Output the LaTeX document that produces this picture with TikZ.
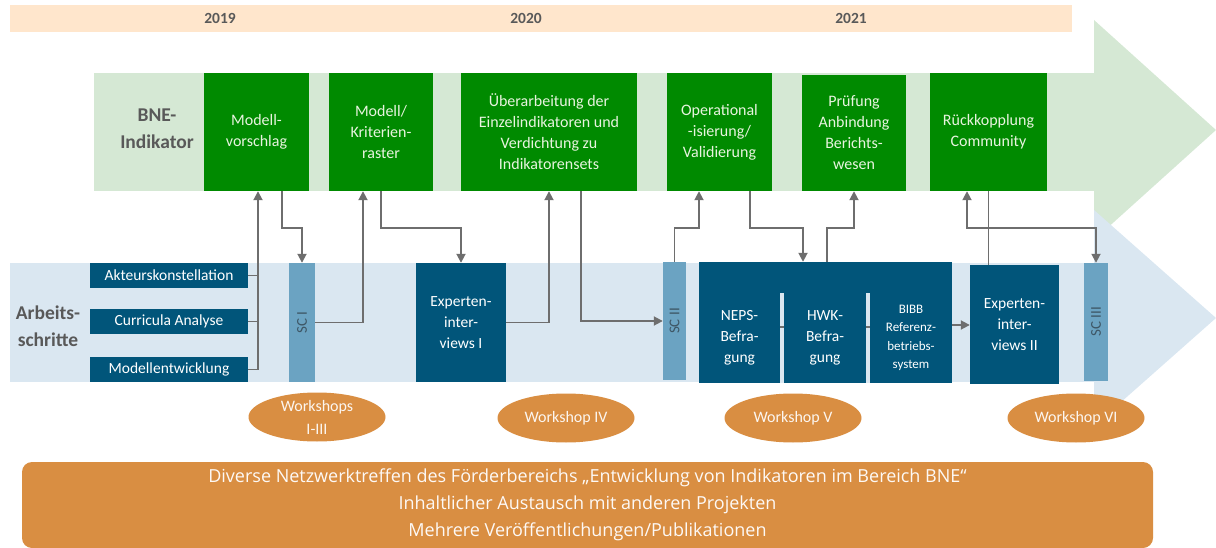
\documentclass[tikz,border=0pt]{standalone}
\usepackage{fontspec}
\setmainfont{Carlito}
\newfontfamily\netzfont{Open Sans}
\usetikzlibrary{arrows.meta, shapes.geometric, positioning}

\definecolor{yearbg}{HTML}{FFE6CC}
\definecolor{indlight}{HTML}{D5E8D4}
\definecolor{arblight}{HTML}{DAE7F1}
\definecolor{indgreen}{HTML}{008A00}
\definecolor{indtext}{HTML}{E8F4DF}
\definecolor{arbblue}{HTML}{01557A}
\definecolor{scblue}{HTML}{6BA3C2}
\definecolor{sctext}{HTML}{3E5766}
\definecolor{wsorange}{HTML}{D98E42}
\definecolor{labgray}{HTML}{595959}
\definecolor{linegray}{HTML}{6E6E6E}

\begin{document}
\begin{tikzpicture}[x=1pt, y=-1pt,
    gbox/.style={fill=indgreen, text=indtext, align=center, inner sep=0pt, minimum height=118pt, font=\fontsize{16}{21}\selectfont},
    bbox/.style={fill=arbblue, text=white, align=center, inner sep=0pt, font=\fontsize{15.5}{21}\selectfont},
    scbox/.style={fill=scblue, text=sctext, inner sep=0pt, font=\fontsize{15}{15}\selectfont},
    wsnode/.style={ellipse, fill=wsorange, text=white!92!wsorange, align=center, inner sep=0pt, minimum width=137pt, minimum height=49pt, font=\fontsize{16}{23}\selectfont},
    bandlabel/.style={text=labgray, align=center, font=\fontsize{19.5}{27}\selectfont\bfseries},
    yearlabel/.style={text=labgray, font=\fontsize{15.5}{15.5}\selectfont\bfseries},
    link/.style={draw=linegray, line width=1.8pt},
    arr/.style={link, -{Triangle[length=9pt, width=9pt]}},
    arrs/.style={link, {Triangle[length=9pt, width=9pt]}-{Triangle[length=9pt, width=9pt]}}
]
\useasboundingbox (0,0) rectangle (1216,548);

% years
\fill[yearbg] (10,5) rectangle (1072,32);
\node[yearlabel] (y19) at (220,18.5) {2019};
\node[yearlabel] (y20) at (526,18.5) {2020};
\node[yearlabel] (y21) at (851,18.5) {2021};

% two big arrows
\fill[indlight] (94,73) rectangle (1094,191);
\fill[indlight] (1094,20) -- (1216,130) -- (1094,240) -- cycle;
\fill[arblight] (10,263) rectangle (1094,382);
\fill[arblight] (1094,210) -- (1216,318) -- (1094,426) -- cycle;

\node[bandlabel] (bne) at (157,129) {BNE-\\Indikator};
\node[bandlabel] (arb) at (48,326) {Arbeits-\\schritte};

% BNE-Indikator
\node[gbox, minimum width=105pt] (mv) at (256.5,132) {Modell-\\vorschlag};
\node[gbox, minimum width=104pt] (kr) at (381,132) {Modell/\\Kriterien-\\raster};
\node[gbox, minimum width=176pt] (ueb) at (549,132) {Überarbeitung der\\Einzelindikatoren und\\Verdichtung zu\\Indikatorensets};
\node[gbox, minimum width=105pt] (op) at (719.5,132) {Operational\\-isierung/\\Validierung};
\node[gbox, minimum width=104pt, minimum height=116pt] (pr) at (854,133) {Prüfung\\Anbindung\\Berichts-\\wesen};
\node[gbox, minimum width=117pt] (rk) at (988.5,132) {Rückkopplung\\Community};

% Arbeitsschritte
\node[bbox, minimum width=158pt, minimum height=25pt] (ak) at (169,275.5) {Akteurskonstellation};
\node[bbox, minimum width=158pt, minimum height=25pt] (ca) at (169,321.5) {Curricula Analyse};
\node[bbox, minimum width=158pt, minimum height=25pt] (me) at (169,369.5) {Modellentwicklung};
\node[scbox, minimum width=26pt, minimum height=119pt] (sc1) at (302,322.5) {\rotatebox{90}{SC I}};
\node[bbox, minimum width=90pt, minimum height=119pt] (ex1) at (461,322.5) {Experten-\\inter-\\views I};
\node[scbox, minimum width=23pt, minimum height=118pt] (sc2) at (674.5,321) {\rotatebox{90}{SC II}};
\node[bbox, minimum width=253pt, minimum height=121pt] (befr) at (825.5,322.5) {};
\fill[arblight] (780,293) rectangle (784,383);
\fill[arblight] (866,293) rectangle (870,383);
\node[bbox, minimum width=81pt, minimum height=90pt] (neps) at (739.5,338) {NEPS-\\Befra-\\gung};
\node[bbox, minimum width=82pt, minimum height=90pt] (hwk) at (825,338) {HWK-\\Befra-\\gung};
\node[bbox, minimum width=82pt, minimum height=90pt, font=\fontsize{13}{18.5}\selectfont] (bibb) at (911,338) {BIBB\\Referenz-\\betriebs-\\system};
\node[bbox, minimum width=89pt, minimum height=119pt] (ex2) at (1014.5,324.5) {Experten-\\inter-\\views II};
\node[scbox, minimum width=24pt, minimum height=118pt] (sc3) at (1096,322) {\rotatebox{90}{SC III}};

% workshops
\node[wsnode] (ws1) at (317,417) {Workshops\\I-III};
\node[wsnode] (ws4) at (566,418) {Workshop IV};
\node[wsnode] (ws5) at (793,418) {Workshop V};
\node[wsnode] (ws6) at (1076,418) {Workshop VI};

\node[fill=wsorange, rounded corners=10pt, minimum width=1131pt, minimum height=86pt, inner sep=0pt, align=center,
      text=white!95!wsorange, font=\netzfont\fontsize{18}{27}\selectfont] (netz) at (587.5,505)
  {Diverse Netzwerktreffen des Förderbereichs „Entwicklung von Indikatoren im Bereich BNE“\\
   Inhaltlicher Austausch mit anderen Projekten\\
   Mehrere Veröffentlichungen/Publikationen};

% connectors
\draw[link] (ak.east) -- ++(10,0);
\draw[link] (ca.east) -- ++(10,0);
\draw[arr] (me.east) -| ([xshift=1.5pt]mv.south);
\draw[arr] ([xshift=25.5pt]mv.south) -- ++(0,37) -| (sc1.north);
\draw[arr] (sc1.east) -| ([xshift=-18pt]kr.south);
\draw[arr] (kr.south) -- ++(0,37) -| (ex1.north);
\draw[arr] (ex1.east) -| (ueb.south);
\draw[arr] ([xshift=32pt]ueb.south) |- (sc2.west);
\draw[arr] (sc2.north) -- ++(0,-34) -| ([xshift=-20.5pt]op.south);
\draw[arr] ([xshift=30.5pt]op.south) -- ++(0,37) -| ([xshift=-22.5pt]befr.north);
\draw[arr] ([xshift=1.5pt]befr.north) -- ++(0,-34) -| (pr.south);
\draw[link] ([yshift=11pt]neps.east) -- ([yshift=11pt]hwk.west);
\draw[link] ([yshift=11pt]hwk.east) -- ([yshift=11pt]bibb.west);
\draw[arr] ([yshift=13pt]bibb.east) -- ([yshift=13pt]bibb.east -| ex2.west);
\draw[link] (rk.south |- ex2.north) -- (rk.south);
\draw[arrs] ([xshift=-21.5pt]rk.south) -- ++(0,37) -| (sc3.north);

\end{tikzpicture}
\end{document}
